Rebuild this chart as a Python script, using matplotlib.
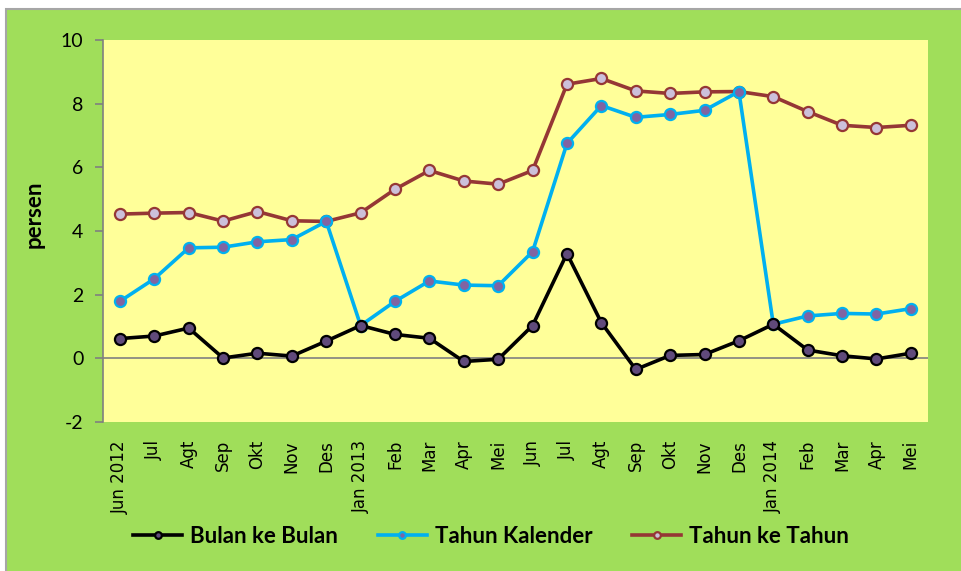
import matplotlib.pyplot as plt
from matplotlib.patches import Rectangle

bulan = ["Jun 2012", "Jul", "Agt", "Sep", "Okt", "Nov", "Des", "Jan 2013",
         "Feb", "Mar", "Apr", "Mei", "Jun", "Jul", "Agt", "Sep", "Okt", "Nov",
         "Des", "Jan 2014", "Feb", "Mar", "Apr", "Mei"]
mtm = [0.62, 0.70, 0.95, 0.01, 0.16, 0.07, 0.54, 1.03, 0.75, 0.63, -0.10, -0.03,
       1.03, 3.29, 1.12, -0.35, 0.09, 0.12, 0.55, 1.07, 0.26, 0.08, -0.02, 0.16]
ytd = [1.79, 2.50, 3.47, 3.49, 3.66, 3.73, 4.30, 1.03, 1.79, 2.43, 2.30, 2.28,
       3.35, 6.75, 7.94, 7.57, 7.66, 7.79, 8.38, 1.07, 1.33, 1.41, 1.39, 1.56]
yoy = [4.53, 4.56, 4.58, 4.31, 4.61, 4.32, 4.30, 4.57, 5.31, 5.90, 5.57, 5.47,
       5.90, 8.61, 8.79, 8.40, 8.32, 8.37, 8.38, 8.22, 7.75, 7.32, 7.25, 7.32]

plt.rcParams["axes.unicode_minus"] = False
hijau = "#a0de5a"
fig = plt.figure(figsize=(9.61, 5.71), dpi=100, facecolor="white")
fig.patches.append(Rectangle((6 / 961, -0.01), 1.0, 1 - 9 / 571 + 0.01,
                             transform=fig.transFigure, facecolor=hijau,
                             edgecolor="#a6a6a6", linewidth=1.5, zorder=-5))

ax = fig.add_axes([0.1069, 0.261, 0.8588, 0.669])
ax.set_facecolor("#ffff99")
x = list(range(len(bulan)))

ax.plot(x, mtm, color="black", lw=2.6, marker="o", ms=8, mfc="#604a7b",
        mec="black", mew=1.6, label="Bulan ke Bulan", zorder=5)
ax.plot(x, ytd, color="#00b0f0", lw=2.6, marker="o", ms=8, mfc="#8064a2",
        mec="#00b0f0", mew=1.6, label="Tahun Kalender", zorder=4)
ax.plot(x, yoy, color="#953735", lw=2.6, marker="o", ms=8, mfc="#ccc0da",
        mec="#953735", mew=1.6, label="Tahun ke Tahun", zorder=3)
ax.axhline(0, color="#808080", lw=1.2, zorder=2)

ax.set_xlim(-0.5, len(bulan) - 0.5)
ax.set_ylim(-2, 10)
ax.set_yticks(range(-2, 11, 2))
ax.set_xticks(x)
ax.set_xticklabels(bulan, rotation=90, fontsize=12, family="DejaVu Sans")
ax.tick_params(axis="x", length=0, pad=13)
ax.tick_params(axis="y", length=6, color="#808080", width=1.2, labelsize=14, pad=8)
for t in ax.get_yticklabels():
    t.set_family("Lato")
for s in ["top", "right", "bottom"]:
    ax.spines[s].set_visible(False)
ax.spines["left"].set_color("#808080")
ax.spines["left"].set_linewidth(1.2)
ax.set_ylabel("persen", fontsize=16, fontweight="bold", family="Lato")
ax.yaxis.set_label_coords(-0.07, 0.545)

ax.legend(loc="center", bbox_to_anchor=(0.511, 0.06), bbox_transform=fig.transFigure,
          ncol=3, frameon=False, handlelength=2.2, columnspacing=1.8, handletextpad=0.35,
          prop={"family": "Lato", "weight": "bold", "size": 16}, markerscale=0.6)

fig.savefig("out.png", dpi=100, facecolor="white")
